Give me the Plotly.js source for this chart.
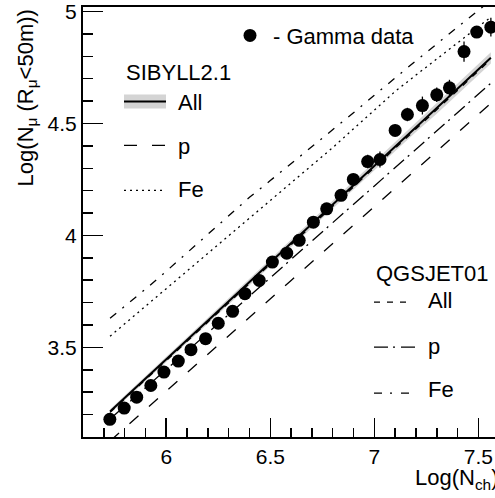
<!DOCTYPE html>
<html>
<head>
<meta charset="utf-8">
<script src="https://cdn.plot.ly/plotly-3.0.1.min.js"></script>
<style>
html,body{margin:0;padding:0;overflow:hidden;background:#fff;width:495px;height:498px;}
#chart{width:530px;height:498px;}
</style>
</head>
<body>
<div id="chart"></div>
<script>
// ---- Gamma data ----
const dataX = [5.729,5.798,5.858,5.926,5.989,6.058,6.119,6.189,6.25,6.319,6.378,6.447,6.51,6.579,6.639,6.707,6.771,6.84,6.899,6.968,7.027,7.10,7.159,7.231,7.30,7.361,7.431,7.492,7.56];
const dataY = [3.179,3.229,3.278,3.330,3.390,3.439,3.490,3.539,3.608,3.661,3.740,3.799,3.881,3.921,3.978,4.059,4.119,4.179,4.250,4.330,4.339,4.469,4.540,4.580,4.628,4.659,4.821,4.908,4.930];
const dataErr = [0.015,0.015,0.015,0.015,0.015,0.015,0.015,0.015,0.015,0.015,0.015,0.015,0.015,0.018,0.018,0.018,0.018,0.02,0.02,0.03,0.036,0.025,0.03,0.04,0.032,0.036,0.045,0.02,0.042];

// ---- model curves ----
const modelX = [5.73,5.8,5.9,6.0,6.1,6.2,6.3,6.4,6.5,6.6,6.7,6.8,6.9,7.0,7.1,7.2,7.3,7.4,7.5,7.56];
const sibAll   = [3.214,3.274,3.361,3.447,3.533,3.620,3.706,3.792,3.879,3.965,4.051,4.137,4.224,4.310,4.396,4.483,4.565,4.652,4.741,4.793];
const sibBand  = [0.010,0.010,0.011,0.011,0.012,0.012,0.013,0.013,0.014,0.015,0.016,0.017,0.018,0.019,0.020,0.021,0.022,0.023,0.024,0.025];
const sibP     = [3.082,3.140,3.222,3.305,3.387,3.469,3.552,3.634,3.716,3.799,3.881,3.964,4.046,4.128,4.211,4.294,4.376,4.458,4.541,4.590];
const sibFe    = [3.550,3.605,3.684,3.763,3.842,3.921,4.000,4.080,4.158,4.236,4.314,4.392,4.476,4.560,4.643,4.716,4.788,4.860,4.932,4.975];
const qgsAll   = [3.210,3.269,3.355,3.441,3.527,3.614,3.700,3.786,3.872,3.958,4.044,4.130,4.216,4.302,4.388,4.474,4.558,4.645,4.733,4.786];
const qgsP     = [3.180,3.237,3.319,3.401,3.483,3.565,3.647,3.729,3.811,3.893,3.975,4.057,4.139,4.221,4.303,4.385,4.467,4.549,4.631,4.680];
const qgsFe    = [3.630,3.683,3.760,3.840,3.922,4.004,4.087,4.170,4.245,4.320,4.395,4.470,4.548,4.626,4.705,4.780,4.855,4.930,5.005,5.05];

// ---- ticks ----
const xTickVals = [6, 6.5, 7, 7.5];
const xTickText = ['6', '6.5', '7', '7.5'];
const yTickVals = [3.5, 4, 4.5, 5];
const yTickText = ['3.5', '4', '4.5', '5'];
const xMinorVals = [5.7,5.8,5.9,6.1,6.2,6.3,6.4,6.6,6.7,6.8,6.9,7.1,7.2,7.3,7.4,7.6];
const yMinorVals = [3.2,3.3,3.4,3.6,3.7,3.8,3.9,4.1,4.2,4.3,4.4,4.6,4.7,4.8,4.9];

const FONT = 'Liberation Sans, Arial, Helvetica, sans-serif';
const sibUp = sibAll.map((v,i)=>v+sibBand[i]);
const sibLo = sibAll.map((v,i)=>v-sibBand[i]);

const traces = [
  {x:modelX, y:sibLo, mode:'lines', line:{width:0, color:'rgba(0,0,0,0)'}, hoverinfo:'skip', showlegend:false},
  {x:modelX, y:sibUp, mode:'lines', fill:'tonexty', fillcolor:'#d4d4d4', line:{width:0, color:'rgba(0,0,0,0)'}, hoverinfo:'skip', showlegend:false},
  {x:modelX, y:sibFe, mode:'lines', line:{color:'black', width:1.3, dash:'2px,4px'}},
  {x:modelX, y:qgsFe, mode:'lines', line:{color:'black', width:1.3, dash:'8px,8px,2px,8px'}},
  {x:modelX, y:sibP, mode:'lines', line:{color:'black', width:1.3, dash:'12px,14px'}},
  {x:modelX, y:qgsP, mode:'lines', line:{color:'black', width:1.3, dash:'14px,5px,2px,6px'}},
  {x:modelX, y:sibAll, mode:'lines', line:{color:'black', width:2}},
  {x:modelX, y:qgsAll, mode:'lines', line:{color:'black', width:1.3, dash:'6px,7px'}},
  {x:dataX, y:dataY, mode:'markers', marker:{color:'black', size:13},
   error_y:{type:'data', array:dataErr, visible:true, color:'black', thickness:1.3, width:0}}
];

// pixel -> paper helpers (plot area: left 83, width 437, bottom 436.6, height 430)
const L=83, W=437, B=436.6, H=430;
const px = p => (p-L)/W;
const py = p => (B-p)/H;

const shapes = [
  {type:'circle', xref:'paper', yref:'paper', x0:px(243.5), x1:px(256.5), y0:py(41.5), y1:py(28.5), fillcolor:'black', line:{width:0}},
  {type:'rect', xref:'paper', yref:'paper', x0:px(124), x1:px(166), y0:py(108), y1:py(94), fillcolor:'#d4d4d4', line:{width:0}},
  {type:'line', xref:'paper', yref:'paper', x0:px(124), x1:px(166), y0:py(101), y1:py(101), line:{color:'black', width:2}},
  {type:'line', xref:'paper', yref:'paper', x0:px(124), x1:px(166), y0:py(145), y1:py(145), line:{color:'black', width:1.3, dash:'13px,15px'}},
  {type:'line', xref:'paper', yref:'paper', x0:px(124), x1:px(166), y0:py(190), y1:py(190), line:{color:'black', width:1.3, dash:'2px,4px'}},
  {type:'line', xref:'paper', yref:'paper', x0:px(374), x1:px(410), y0:py(301.7), y1:py(301.7), line:{color:'black', width:1.3, dash:'6px,7px'}},
  {type:'line', xref:'paper', yref:'paper', x0:px(374), x1:px(415), y0:py(346.7), y1:py(346.7), line:{color:'black', width:1.3, dash:'14px,5px,2px,6px'}},
  {type:'line', xref:'paper', yref:'paper', x0:px(374), x1:px(410), y0:py(392.7), y1:py(392.7), line:{color:'black', width:1.3, dash:'8px,8px,2px,9px'}}
];

const ann = (text, x, y, size, extra) => Object.assign({text:text, xref:'paper', yref:'paper', x:px(x), y:py(y), xanchor:'left', yanchor:'middle', showarrow:false, font:{family:FONT, size:size, color:'black'}}, extra||{});

const annotations = [
  ann('- Gamma data', 271, 36, 22),
  ann('SIBYLL2.1', 124, 72, 22),
  ann('All', 176, 102, 22),
  ann('p', 176, 146, 22),
  ann('Fe', 176, 189, 22),
  ann('QGSJET01', 374, 273, 22),
  ann('All', 426, 300, 22),
  ann('p', 426, 346, 22),
  ann('Fe', 426, 389, 22),
  ann('Log(N<sub>ch</sub>)', 413, 479, 22),
  ann('Log(N<sub>μ</sub> (R<sub>μ</sub><50m))', 27, 98, 22, {textangle:-90, xanchor:'center'})
];

const axisCommon = {
  showgrid:false, zeroline:false, showline:true, linecolor:'black', linewidth:2,
  ticks:'inside', tickcolor:'black', tickwidth:1.5, mirror:true,
  tickmode:'array', ticklabeloverflow:'allow',
  tickfont:{family:FONT, size:21, color:'black'}
};

const layout = {
  width:530, height:498,
  margin:{l:83, r:10, t:7, b:61.4},
  paper_bgcolor:'white', plot_bgcolor:'white',
  showlegend:false,
  xaxis:Object.assign({}, axisCommon, {range:[5.6,7.7], tickvals:xTickVals, ticktext:xTickText, ticklen:19,
    minor:{tickmode:'array', tickvals:xMinorVals, ticks:'inside', ticklen:9, tickwidth:1.5, tickcolor:'black', showgrid:false}}),
  yaxis:Object.assign({}, axisCommon, {range:[3.1,5.02], tickvals:yTickVals, ticktext:yTickText, ticklen:20,
    minor:{tickmode:'array', tickvals:yMinorVals, ticks:'inside', ticklen:10, tickwidth:1.5, tickcolor:'black', showgrid:false}}),
  shapes:shapes,
  annotations:annotations
};

Plotly.newPlot('chart', traces, layout, {staticPlot:true, displayModeBar:false});
</script>
</body>
</html>
